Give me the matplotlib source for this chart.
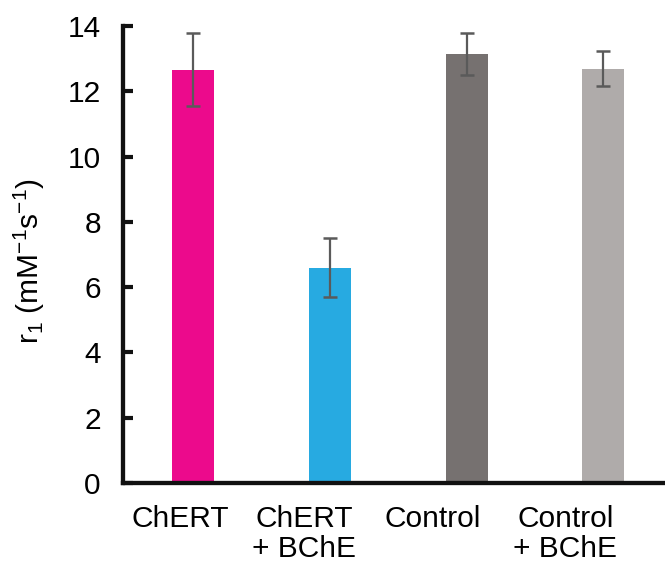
import matplotlib
matplotlib.use("Agg")
import matplotlib.pyplot as plt
from matplotlib.transforms import ScaledTranslation

plt.rcParams["font.family"] = ["Liberation Sans", "DejaVu Sans"]
plt.rcParams["mathtext.fontset"] = "custom"
plt.rcParams["mathtext.rm"] = "Liberation Sans"
plt.rcParams["mathtext.it"] = "Liberation Sans"

# Relaxivity data
categories = ["ChERT", "ChERT\n+ BChE", "Control", "Control\n+ BChE"]
r1_values = [12.65, 6.60, 13.13, 12.69]
err_low = [11.54, 5.70, 12.49, 12.15]
err_high = [13.80, 7.52, 13.78, 13.24]
colors = ["#EC0A8C", "#27AAE1", "#767170", "#AFABAA"]
yticks = [0, 2, 4, 6, 8, 10, 12, 14]

FS = 21.5

fig = plt.figure(figsize=(6.65, 5.66), dpi=100)
ax = fig.add_axes([123 / 665, 83 / 566, 542 / 665, 457 / 566])

x = list(range(len(categories)))
yerr = [[v - lo for v, lo in zip(r1_values, err_low)],
        [hi - v for v, hi in zip(r1_values, err_high)]]

ax.bar(x, r1_values, width=0.307, color=colors, zorder=2)
ax.errorbar(x, r1_values, yerr=yerr, fmt="none", ecolor="#5a5a5a",
            elinewidth=1.6, capsize=5, capthick=1.8, zorder=3)

ax.set_xlim(-0.512, 3.45)
ax.set_ylim(0, 14)
ax.set_yticks(yticks)
ax.set_yticklabels([str(t) for t in yticks])

ax.set_xticks(x)
ax.set_xticklabels(categories, linespacing=1.1)
ax.tick_params(axis="x", length=0, pad=15.5, labelsize=FS)
ax.tick_params(axis="y", direction="in", length=7, width=3, pad=16,
               labelsize=FS, color="#111111")

# nudge category labels to the left, growing toward the right side
shifts_px = [-13, -26, -34, -38]
for lab, s in zip(ax.get_xticklabels(), shifts_px):
    lab.set_transform(lab.get_transform() + ScaledTranslation(s / 100, 0, fig.dpi_scale_trans))

for side in ["top", "right"]:
    ax.spines[side].set_visible(False)
for side in ["left", "bottom"]:
    ax.spines[side].set_linewidth(3.1)
    ax.spines[side].set_color("#111111")
    ax.spines[side].set_capstyle("projecting")

ax.set_ylabel(r"r$_1$ (mM$^{\mathregular{-1}}$s$^{\mathregular{-1}}$)", fontsize=FS)
ax.yaxis.set_label_coords(-0.140, 0.485)

fig.savefig("out.png", dpi=100)
